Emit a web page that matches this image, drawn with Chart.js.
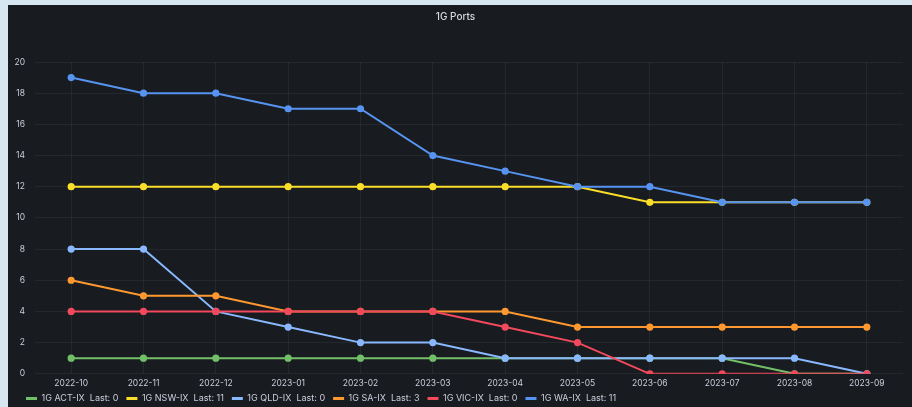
<!DOCTYPE html>
<html>
<head>
<meta charset="utf-8">
<script src="https://cdn.jsdelivr.net/npm/chart.js@4/dist/chart.umd.min.js"></script>
<style>
  html, body { margin: 0; padding: 0; background: #d7e7f1; }
  #wrap { position: absolute; left: 8px; top: 5px; width: 904px; height: 402px; background: #181b1f; }
</style>
</head>
<body>
<div id="wrap"><canvas id="chart"></canvas></div>
<script>
const months = ["2022-10", "2022-11", "2022-12", "2023-01", "2023-02", "2023-03",
  "2023-04", "2023-05", "2023-06", "2023-07", "2023-08", "2023-09"];
const yTicks = [0, 2, 4, 6, 8, 10, 12, 14, 16, 18, 20];

const actIX = [1, 1, 1, 1, 1, 1, 1, 1, 1, 1, 0, 0];
const nswIX = [12, 12, 12, 12, 12, 12, 12, 12, 11, 11, 11, 11];
const qldIX = [8, 8, 4, 3, 2, 2, 1, 1, 1, 1, 1, 0];
const saIX = [6, 5, 5, 4, 4, 4, 4, 3, 3, 3, 3, 3];
const vicIX = [4, 4, 4, 4, 4, 4, 3, 2, 0, 0, 0, 0];
const waIX = [19, 18, 18, 17, 17, 14, 13, 12, 12, 11, 11, 11];

const series = [
  { name: "1G ACT-IX", data: actIX, color: "#73bf69" },
  { name: "1G NSW-IX", data: nswIX, color: "#fade2a" },
  { name: "1G QLD-IX", data: qldIX, color: "#8ab8ff" },
  { name: "1G SA-IX", data: saIX, color: "#ff9830" },
  { name: "1G VIC-IX", data: vicIX, color: "#f2495c" },
  { name: "1G WA-IX", data: waIX, color: "#5794f2" },
];

Chart.defaults.font.family = "Inter, 'Noto Sans', sans-serif";
Chart.defaults.color = "#ccccdc";

// move the legend a little in and up, like the panel's legend
const legendShift = {
  id: "legendShift",
  afterLayout(chart) {
    chart.legend.left += 10;
    chart.legend.top -= 8;
  },
};

new Chart(document.getElementById("chart"), {
  type: "line",
  data: {
    labels: months,
    datasets: series.map((s, i) => ({
      label: s.name,
      data: s.data,
      borderColor: s.color,
      backgroundColor: s.color,
      pointBackgroundColor: s.color,
      pointBorderColor: s.color,
      pointRadius: 2.6,
      borderWidth: 2,
      tension: 0,
      order: -i,
    })),
  },
  options: {
    responsive: true,
    maintainAspectRatio: false,
    animation: false,
    layout: { padding: { left: 0, right: 9, top: 4, bottom: -14 } },
    plugins: {
      title: {
        display: true,
        text: "1G Ports",
        color: "#d8d9da",
        font: { size: 10, weight: "500" },
        padding: { top: 2, bottom: 39 },
      },
      legend: {
        position: "bottom",
        align: "start",
        labels: {
          boxWidth: 11,
          boxHeight: 3,
          padding: 8,
          color: "#ccccdc",
          font: { size: 9 },
          generateLabels(chart) {
            return chart.data.datasets.map((ds, i) => ({
              text: ds.label + "  Last: " + ds.data[ds.data.length - 1],
              strokeStyle: ds.borderColor,
              fillStyle: ds.borderColor,
              lineWidth: 0,
              fontColor: "#ccccdc",
              datasetIndex: i,
            }));
          },
        },
      },
      tooltip: { enabled: false },
    },
    scales: {
      x: {
        type: "category",
        offset: true,
        grid: { offset: false, color: "rgba(204,204,220,0.07)", drawTicks: false },
        border: { display: false },
        ticks: { color: "#ccccdc", font: { size: 8.5 }, padding: 5, maxRotation: 0, autoSkip: false },
      },
      y: {
        min: 0,
        max: 20,
        afterBuildTicks(axis) { axis.ticks = yTicks.map(v => ({ value: v })); },
        afterFit(axis) { axis.width = 27; },
        grid: { color: "rgba(204,204,220,0.07)", drawTicks: false },
        border: { display: false },
        ticks: { color: "#ccccdc", font: { size: 8.5 }, padding: 10 },
      },
    },
  },
  plugins: [legendShift],
});
</script>
</body>
</html>
